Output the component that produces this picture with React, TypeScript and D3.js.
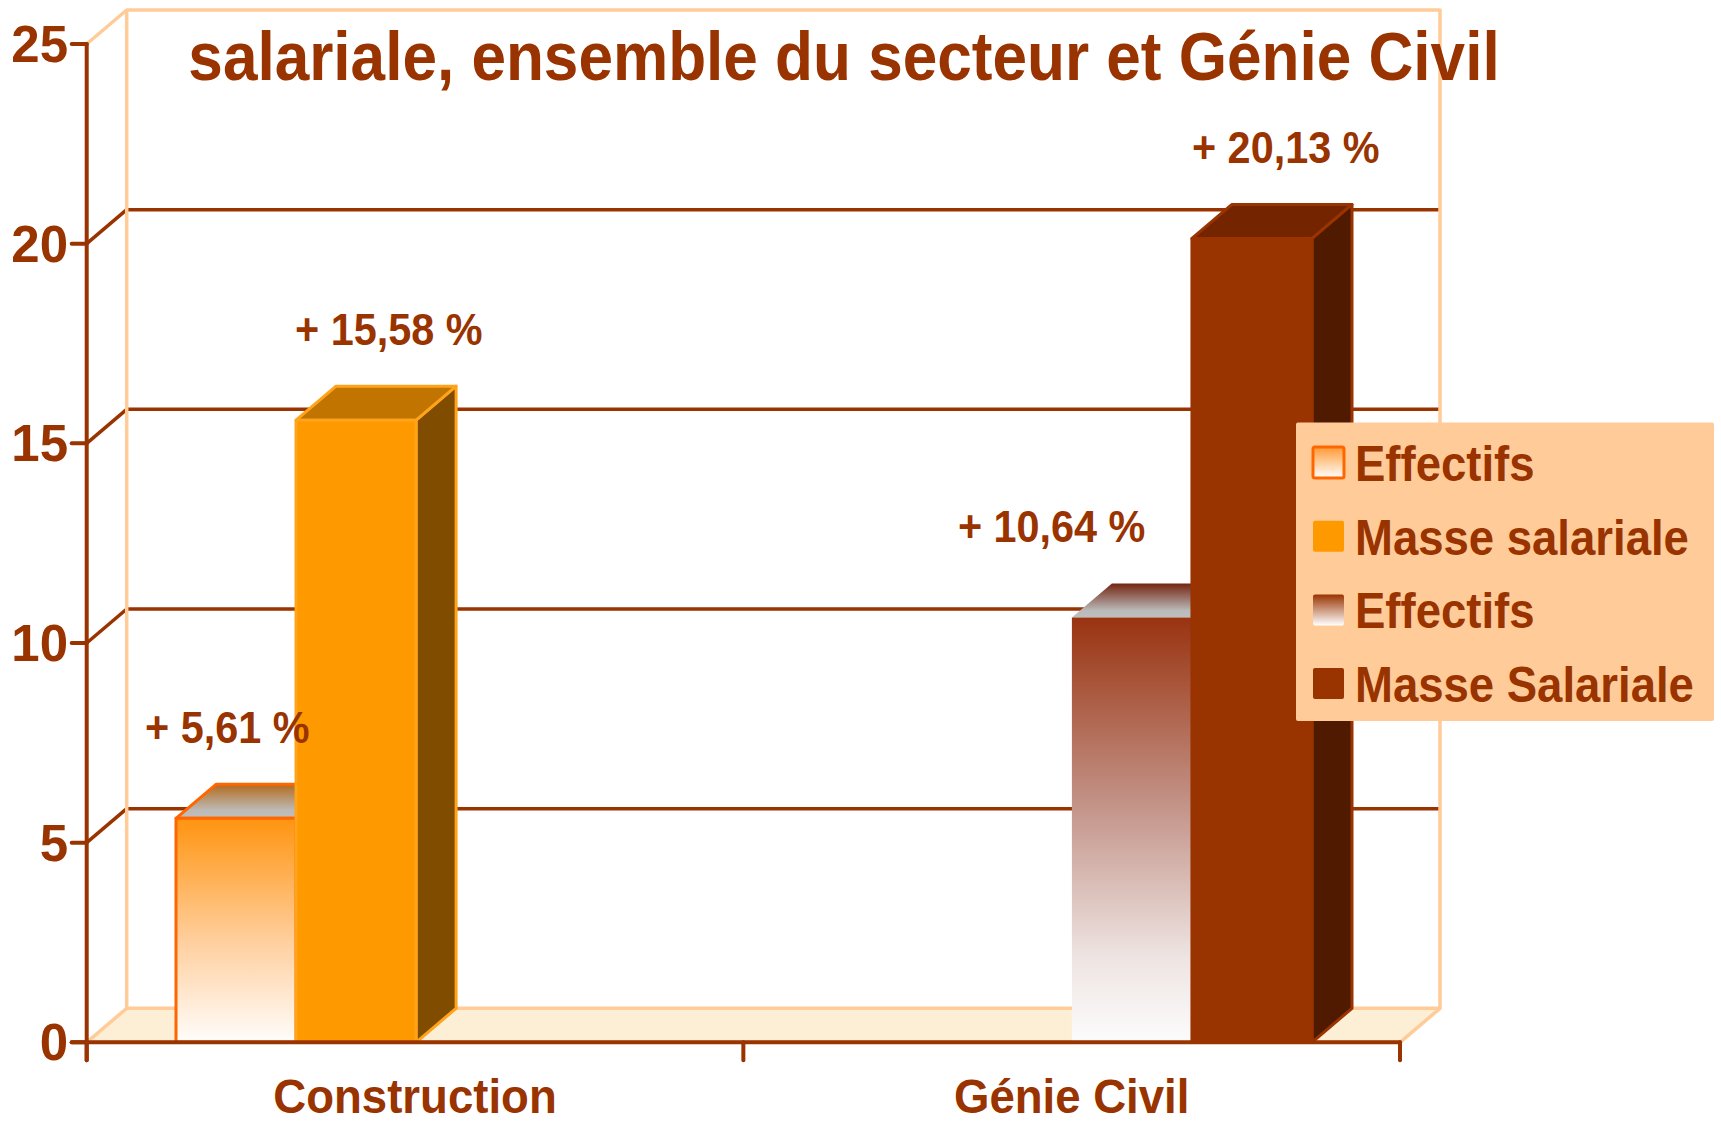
import React from 'react';
import * as d3 from 'd3';

// values (percent change)
const categories = ['Construction', 'Génie Civil'];
const seriesNames = ['Effectifs', 'Masse salariale'];
const effectifs = [5.61, 10.64];
const masseSalariale = [15.58, 20.13];
const yTicks = [0, 5, 10, 15, 20, 25];
const legendLabels = ['Effectifs', 'Masse salariale', 'Effectifs', 'Masse Salariale'];
const titleLine = 'salariale, ensemble du secteur et Génie Civil';

const W = 1721;
const H = 1123;
const DX = 40;
const DY = 34;
const BROWN = '#993300';
const PEACH = '#FFCC99';
const FONT = '"Liberation Sans", Arial, sans-serif';

// one palette per category (orange for Construction, brown for Génie Civil)
const palettes = [
  {
    eff: {front: 'url(#effFrontC)', top: 'url(#effTopC)', side: '#B86A10', stroke: '#FF6600'},
    masse: {front: '#FF9900', top: '#C27400', side: '#804D00', stroke: '#FFA31A'},
  },
  {
    eff: {front: 'url(#effFrontG)', top: 'url(#effTopG)', side: '#5A1E08', stroke: 'none'},
    masse: {front: '#993300', top: '#742500', side: '#4F1A00', stroke: '#993300'},
  },
];
// small manual nudges of the value labels, as placed in the original
const labelShift = [[-31, -1], [-114, 0]];

const fmt = (v: number) => `+ ${v.toFixed(2).replace('.', ',')} %`;

function Bar3D({x, w, y0, y1, style}: any) {
  const front = `M${x},${y1}H${x + w}V${y0}H${x}Z`;
  const top = `M${x},${y1}L${x + DX},${y1 - DY}H${x + w + DX}L${x + w},${y1}Z`;
  const side = `M${x + w},${y1}L${x + w + DX},${y1 - DY}V${y0 - DY}L${x + w},${y0}Z`;
  const sw = style.stroke === 'none' ? 0 : 3;
  return (
    <g strokeLinejoin="round">
      <path d={side} fill={style.side} stroke={style.stroke} strokeWidth={sw} />
      <path d={top} fill={style.top} stroke={style.stroke} strokeWidth={sw} />
      <path d={front} fill={style.front} stroke={style.stroke} strokeWidth={sw} />
    </g>
  );
}

function Txt({x, y, size, anchor = 'start', sx = 0.9, children}: any) {
  return (
    <text
      transform={`translate(${x},${y}) scale(${sx},1)`}
      fontFamily={FONT}
      fontWeight="bold"
      fontSize={size}
      fill={BROWN}
      textAnchor={anchor}
    >
      {children}
    </text>
  );
}

export default function App() {
  const y = d3.scaleLinear().domain([0, 25]).range([1042.3, 44]);
  const xAxis = d3.scaleBand().domain(categories).range([86.7, 1400]);
  const xGroup = d3.scaleBand().domain(categories).range([176, 1312]).paddingInner(0.732);
  const xInner = d3.scaleBand().domain(seriesNames).range([0, xGroup.bandwidth()]);

  const x0 = xAxis.range()[0];
  const x1 = xAxis.range()[1];
  const y0 = y(0);
  const yTop = y(25);

  const values = [effectifs, masseSalariale];

  return (
    <svg width={W} height={H} style={{position: 'absolute', left: 0, top: 0}}>
      <defs>
        <linearGradient id="effFrontC" x1="0" y1="0" x2="0" y2="1">
          <stop offset="0" stopColor="#FF9410" />
          <stop offset="0.55" stopColor="#FFCF9E" />
          <stop offset="1" stopColor="#FFFDFB" />
        </linearGradient>
        <linearGradient id="effTopC" x1="0" y1="0" x2="0" y2="1">
          <stop offset="0" stopColor="#B36A1C" />
          <stop offset="0.75" stopColor="#BDB9B4" />
          <stop offset="1" stopColor="#BFBFBF" />
        </linearGradient>
        <linearGradient id="effFrontG" x1="0" y1="0" x2="0" y2="1">
          <stop offset="0" stopColor="#993310" />
          <stop offset="0.45" stopColor="#C4958A" />
          <stop offset="0.8" stopColor="#EEE4E2" />
          <stop offset="1" stopColor="#FCFCFC" />
        </linearGradient>
        <linearGradient id="effTopG" x1="0" y1="0" x2="0" y2="1">
          <stop offset="0" stopColor="#742410" />
          <stop offset="0.8" stopColor="#BABABA" />
          <stop offset="1" stopColor="#BEBEBE" />
        </linearGradient>
        <linearGradient id="legC" x1="0" y1="0" x2="0" y2="1">
          <stop offset="0" stopColor="#FF9933" />
          <stop offset="1" stopColor="#FFFFFF" />
        </linearGradient>
        <linearGradient id="legG" x1="0" y1="0" x2="0" y2="1">
          <stop offset="0" stopColor="#993300" />
          <stop offset="1" stopColor="#FFFFFF" />
        </linearGradient>
      </defs>

      <rect width={W} height={H} fill="#fff" />

      {/* back wall */}
      <rect x={x0 + DX} y={yTop - DY} width={x1 - x0} height={y0 - yTop} fill="#fff" />

      {/* gridlines: side wall diagonal + back wall */}
      {yTicks.filter((t) => t > 0 && t < 25).map((t) => (
        <g key={t} stroke={BROWN} strokeWidth={3.5} fill="none">
          <line x1={x0} y1={y(t)} x2={x0 + DX} y2={y(t) - DY} />
          <line x1={x0 + DX} y1={y(t) - DY} x2={x1 + DX} y2={y(t) - DY} />
        </g>
      ))}

      {/* floor */}
      <path
        d={`M${x0},${y0}H${x1}L${x1 + DX},${y0 - DY}H${x0 + DX}Z`}
        fill="#FCEFD6"
        stroke={PEACH}
        strokeWidth={3.5}
        strokeLinejoin="round"
      />

      {/* wall edges */}
      <g stroke={PEACH} strokeWidth={3.5} fill="none" strokeLinejoin="round">
        <path d={`M${x0},${yTop}L${x0 + DX},${yTop - DY}H${x1 + DX}V${y0 - DY}`} />
        <line x1={x0 + DX} y1={yTop - DY} x2={x0 + DX} y2={y0 - DY} />
      </g>

      {/* bars */}
      {categories.map((c, ci) => (
        <g key={c}>
          {seriesNames.map((s, si) => {
            const v = values[si][ci];
            const style = si === 0 ? palettes[ci].eff : palettes[ci].masse;
            return (
              <Bar3D
                key={s}
                x={(xGroup(c) as number) + (xInner(s) as number)}
                w={xInner.bandwidth()}
                y0={y0}
                y1={y(v)}
                style={style}
              />
            );
          })}
        </g>
      ))}

      {/* axes */}
      <g stroke={BROWN} strokeWidth={4} strokeLinecap="round">
        <line x1={x0} y1={yTop} x2={x0} y2={y0 + 18} />
        <line x1={x0 - 15} y1={y0} x2={x1} y2={y0} />
        {yTicks.map((t) => (
          <line key={t} x1={x0 - 15} y1={y(t)} x2={x0} y2={y(t)} />
        ))}
        {[x0, (xAxis(categories[1]) as number), x1].map((xx, i) => (
          <line key={i} x1={xx} y1={y0} x2={xx} y2={y0 + 18} />
        ))}
      </g>

      {/* tick labels */}
      {yTicks.map((t) => (
        <Txt key={t} x={68} y={y(t) + 18} size={51} anchor="end" sx={1}>
          {t}
        </Txt>
      ))}

      {/* category labels */}
      {categories.map((c) => (
        <Txt key={c} x={(xAxis(c) as number) + xAxis.bandwidth() / 2} y={1113} size={49} anchor="middle" sx={0.93}>
          {c}
        </Txt>
      ))}

      {/* value labels */}
      {categories.map((c, ci) =>
        seriesNames.map((s, si) => {
          const v = values[si][ci];
          const bx = (xGroup(c) as number) + (xInner(s) as number);
          return (
            <Txt key={c + s} x={bx + labelShift[ci][si]} y={y(v) - 75} size={45} sx={0.92}>
              {fmt(v)}
            </Txt>
          );
        })
      )}

      {/* title (second line; the first is cut off above the picture) */}
      <Txt x={844} y={80} size={69} anchor="middle" sx={0.9}>
        {titleLine}
      </Txt>

      {/* legend */}
      <g>
        <rect x={1296} y={422.6} width={418} height={298.5} fill="#FFCC99" rx={2} />
        {legendLabels.map((l, i) => {
          const cy = 463 + i * 73.7;
          const fills = ['url(#legC)', '#FF9900', 'url(#legG)', BROWN];
          return (
            <g key={i}>
              <rect
                x={1313}
                y={cy - 16}
                width={31}
                height={31}
                fill={fills[i]}
                stroke={i === 0 ? '#FF6600' : 'none'}
                strokeWidth={i === 0 ? 3 : 0}
                rx={2}
              />
              <Txt x={1355} y={cy + 18} size={50} sx={0.91}>
                {l}
              </Txt>
            </g>
          );
        })}
      </g>
    </svg>
  );
}
